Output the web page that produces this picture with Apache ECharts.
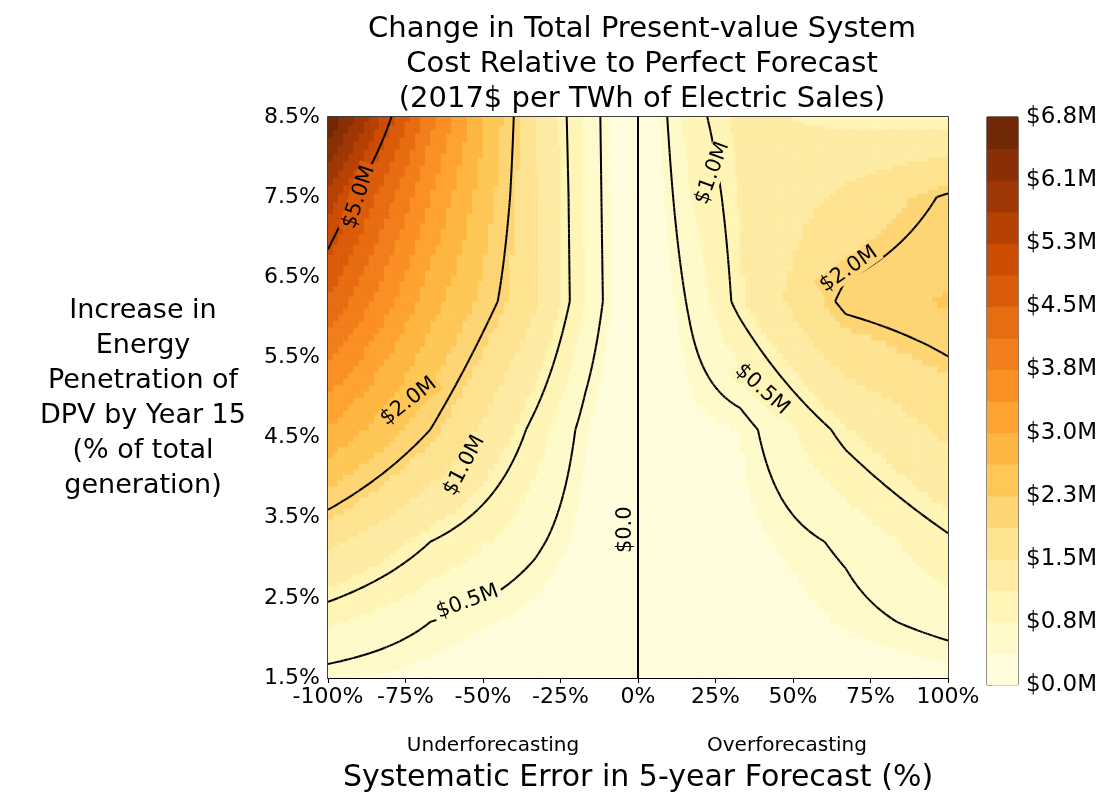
<!DOCTYPE html>
<html><head><meta charset="utf-8">
<script src="https://cdn.jsdelivr.net/npm/echarts@6/dist/echarts.min.js"></script>
<style>body{margin:0}#c{width:1107px;height:798px}</style></head>
<body><div id="c"></div>
<script>
// Data grid (systematic error %, DPV penetration %), values in $M per TWh
const xGrid = [-100,-67,-33,-17,0,17,33,67,100];
const yGrid = [1.5,2.2,3.2,4.6,6.2,7.5,8.5];
const zValues = [
  [0.40,0.30,0.15,0.10,0,0.05,0.10,0.20,0.30],
  [0.80,0.50,0.30,0.15,0,0.10,0.20,0.40,0.60],
  [1.60,1.00,0.55,0.30,0,0.15,0.30,0.55,0.95],
  [3.00,2.00,0.90,0.40,0,0.30,0.38,1.10,1.60],
  [4.50,2.80,1.55,0.75,0,0.55,1.10,2.10,2.30],
  [5.50,3.40,1.55,0.72,0,0.75,1.15,1.60,2.05],
  [6.80,3.90,1.50,0.70,0,0.90,1.20,1.05,1.00]
];
const contourLevels = [0.5,1.0,2.0,5.0];
const colorbarTicks = ['$0.0M','$0.8M','$1.5M','$2.3M','$3.0M','$3.8M','$4.5M','$5.3M','$6.1M','$6.8M'];
const labelSpots = [ // [text, x, y, rotationDeg]
  ['$5.0M',-90,7.5,72],['$2.0M',-74,4.95,38],['$1.0M',-56,4.15,62],['$0.5M',-55,2.45,20],
  ['$0.0',-4,3.35,90],['$1.0M',24,7.8,70],['$2.0M',68,6.6,35],['$0.5M',40,5.1,-42]
];
const zMax = 6.8, nBands = 18;
const base = ['#ffffe5','#fff7bc','#fee391','#fec44f','#fe9929','#ec7014','#cc4c02','#993404','#662506'];
function hex(c){return [1,3,5].map(i=>parseInt(c.substr(i,2),16));}
function cmap(t){t=Math.max(0,Math.min(1,t));const p=t*(base.length-1),i=Math.min(base.length-2,Math.floor(p)),f=p-i;
  const a=hex(base[i]),b=hex(base[i+1]);return 'rgb('+a.map((v,k)=>Math.round(v+(b[k]-v)*f)).join(',')+')';}
function bandColor(v){let b=Math.floor(v/(zMax/nBands));b=Math.max(0,Math.min(nBands-1,b));return cmap((b+0.5)/nBands);}
function locate(arr,v){for(let i=0;i<arr.length-1;i++){if(v<=arr[i+1])return i;}return arr.length-2;}
function zAt(x,y){const i=locate(xGrid,x),j=locate(yGrid,y);const tx=(x-xGrid[i])/(xGrid[i+1]-xGrid[i]),ty=(y-yGrid[j])/(yGrid[j+1]-yGrid[j]);
  const a=zValues[j][i],b=zValues[j][i+1],c=zValues[j+1][i+1],d=zValues[j+1][i];
  return a*(1-tx)*(1-ty)+b*tx*(1-ty)+c*tx*ty+d*(1-tx)*ty;}

function render(params,api){
  const kids=[];const N=20;
  const fx=[],fy=[];
  for(let i=0;i<xGrid.length-1;i++)for(let s=0;s<N;s++)fx.push(xGrid[i]+(xGrid[i+1]-xGrid[i])*s/N);fx.push(xGrid[xGrid.length-1]);
  for(let j=0;j<yGrid.length-1;j++)for(let s=0;s<N;s++)fy.push(yGrid[j]+(yGrid[j+1]-yGrid[j])*s/N);fy.push(yGrid[yGrid.length-1]);
  const Z=fy.map(y=>fx.map(x=>zAt(x,y)));
  for(let j=0;j<fy.length-1;j++)for(let i=0;i<fx.length-1;i++){
    const p0=api.coord([fx[i],fy[j+1]]),p1=api.coord([fx[i+1],fy[j]]);
    const v=(Z[j][i]+Z[j][i+1]+Z[j+1][i]+Z[j+1][i+1])/4;const col=bandColor(v);
    kids.push({type:'rect',shape:{x:p0[0],y:p0[1],width:p1[0]-p0[0]+0.5,height:p1[1]-p0[1]+0.5},style:{fill:col,stroke:col,lineWidth:0.3},silent:true});
  }
  contourLevels.forEach(L=>{
    for(let j=0;j<fy.length-1;j++)for(let i=0;i<fx.length-1;i++){
      const c=[[fx[i],fy[j],Z[j][i]],[fx[i+1],fy[j],Z[j][i+1]],[fx[i+1],fy[j+1],Z[j+1][i+1]],[fx[i],fy[j+1],Z[j+1][i]]];
      const pts=[];
      for(let e=0;e<4;e++){const A=c[e],B=c[(e+1)%4];
        if((A[2]<L)!==(B[2]<L)){const t=(L-A[2])/(B[2]-A[2]);pts.push(api.coord([A[0]+(B[0]-A[0])*t,A[1]+(B[1]-A[1])*t]));}}
      for(let k=0;k+1<pts.length;k+=2)kids.push({type:'line',shape:{x1:pts[k][0],y1:pts[k][1],x2:pts[k+1][0],y2:pts[k+1][1]},style:{stroke:'#000',lineWidth:2},silent:true});
    }
  });
  const a=api.coord([0,1.5]),b=api.coord([0,8.5]);
  kids.push({type:'line',shape:{x1:a[0],y1:a[1],x2:b[0],y2:b[1]},style:{stroke:'#000',lineWidth:2}});
  labelSpots.forEach(s=>{const p=api.coord([s[1],s[2]]);
    kids.push({type:'text',x:p[0],y:p[1],rotation:s[3]*Math.PI/180,style:{text:s[0],font:'21px "DejaVu Sans"',fill:'#000',align:'center',verticalAlign:'middle',backgroundColor:bandColor(zAt(s[1],s[2])),padding:[0,3]}});});
  return {type:'group',children:kids};
}
function renderBar(params,api){
  const kids=[];for(let b=0;b<nBands;b++){const p0=api.coord([0,(b+1)*zMax/nBands]),p1=api.coord([1,b*zMax/nBands]);
    const col=cmap((b+0.5)/nBands);kids.push({type:'rect',shape:{x:p0[0],y:p0[1],width:p1[0]-p0[0],height:p1[1]-p0[1]+0.5},style:{fill:col,stroke:col,lineWidth:0.3}});}
  return {type:'group',children:kids};
}
const font='DejaVu Sans';
const chart=echarts.init(document.getElementById('c'));
chart.setOption({
  animation:false,
  title:{text:'Change in Total Present-value System\nCost Relative to Perfect Forecast\n(2017$ per TWh of Electric Sales)',left:637,top:7,textAlign:'center',
    textStyle:{fontFamily:font,fontSize:29,fontWeight:'normal',lineHeight:35,color:'#000'}},
  grid:[{left:328,top:117,width:620,height:568,show:true,borderColor:'#000',borderWidth:1.5,backgroundColor:'transparent'},
        {left:987,top:117,width:31,height:568,show:true,borderColor:'#000',borderWidth:1}],
  xAxis:[{type:'value',gridIndex:0,min:-100,max:100,interval:25,splitLine:{show:false},
      axisLine:{lineStyle:{color:'#000'}},axisTick:{lineStyle:{color:'#000'},length:5},
      axisLabel:{color:'#000',fontFamily:font,fontSize:22,margin:8,formatter:v=>v+'%'},
      name:'Systematic Error in 5-year Forecast (%)',nameLocation:'middle',nameGap:85,nameTextStyle:{fontFamily:font,fontSize:30,color:'#000'}},
    {type:'value',gridIndex:1,min:0,max:1,show:false}],
  yAxis:[{type:'value',gridIndex:0,min:1.5,max:8.5,interval:1,splitLine:{show:false},
      axisLine:{lineStyle:{color:'#000'}},axisTick:{lineStyle:{color:'#000'},length:5},
      axisLabel:{color:'#000',fontFamily:font,fontSize:22,formatter:v=>v.toFixed(1)+'%'}},
    {type:'value',gridIndex:1,min:0,max:zMax,interval:zMax/9,position:'right',splitLine:{show:false},
      axisLine:{show:false},axisTick:{show:true,lineStyle:{color:'#000'},length:5},
      axisLabel:{color:'#000',fontFamily:font,fontSize:23,formatter:(v)=>colorbarTicks[Math.round(v/(zMax/9))]}}],
  graphic:[
    {type:'text',x:143,y:293,style:{text:'Increase in\nEnergy\nPenetration of\nDPV by Year 15\n(% of total\ngeneration)',font:'27px "DejaVu Sans"',fill:'#000',align:'center',lineHeight:35}},
    {type:'text',x:493,y:736,style:{text:'Underforecasting',font:'20px "DejaVu Sans"',fill:'#000',align:'center'}},
    {type:'text',x:787,y:736,style:{text:'Overforecasting',font:'20px "DejaVu Sans"',fill:'#000',align:'center'}}
  ],
  series:[
    {type:'custom',xAxisIndex:0,yAxisIndex:0,data:[[0,5]],renderItem:render,clip:true,z:1},
    {type:'custom',xAxisIndex:1,yAxisIndex:1,data:[[0,0]],renderItem:renderBar,z:1}
  ]
});
</script></body></html>
